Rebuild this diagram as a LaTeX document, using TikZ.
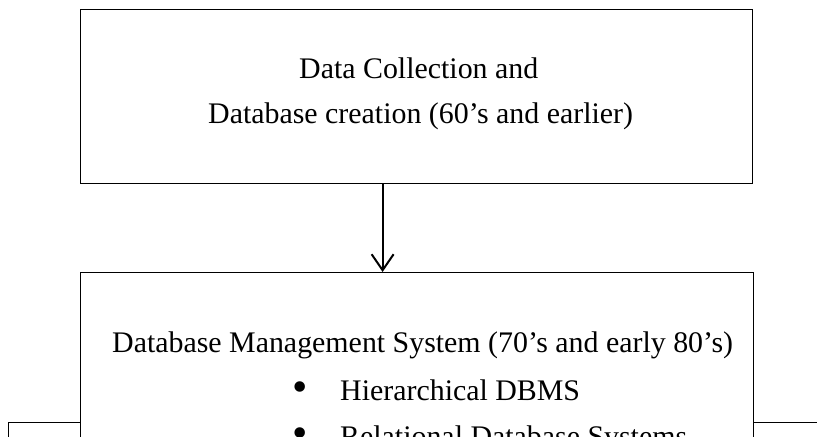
\documentclass[tikz,border=0pt]{standalone}
\usepackage{fontspec}
\setmainfont{Liberation Serif}
\usetikzlibrary{arrows.meta}
\begin{document}
\begin{tikzpicture}[x=1bp,y=-1bp,
  box/.style={draw=black,line width=1.2bp,fill=white,inner sep=0pt},
  txt/.style={inner sep=0pt,font=\fontsize{30}{46}\selectfont},
  bul/.style={inner sep=0pt,font=\fontsize{44}{46}\selectfont},
  arr/.style={line width=2bp,-{Straight Barb[length=16bp,width=22bp,line width=2bp]}}]
\clip (0,0) rectangle (817,437);
% side boxes (partly hidden)
\node[box,minimum width=200bp,minimum height=100bp,anchor=north west] (leftbox) at (8,422) {};
\node[box,minimum width=200bp,minimum height=100bp,anchor=north west] (rightbox) at (700,422) {};
% top box
\node[box,minimum width=672bp,minimum height=174bp,anchor=north west] (top) at (80,9) {};
\node[txt,anchor=base west] (t1) at (299,79) {Data Collection and};
\node[txt,anchor=base west] (t2) at (208,124) {Database creation (60’s and earlier)};
% second box
\node[box,minimum width=673bp,minimum height=250bp,anchor=north west] (dbms) at (80,272) {};
\node[txt,anchor=base west] (d1) at (112,353) {Database Management System (70’s and early 80’s)};
\node[bul] (b1) at (300,392) {•};
\node[txt,anchor=base west] (d2) at (340,400) {Hierarchical DBMS};
\node[bul] (b2) at (300,438) {•};
\node[txt,anchor=base west] (d3) at (340,446) {Relational Database Systems};
% arrow
\draw[arr] ([xshift=-34bp]top.south) -- ([xshift=-34bp]top.south |- dbms.north);
\end{tikzpicture}
\end{document}
